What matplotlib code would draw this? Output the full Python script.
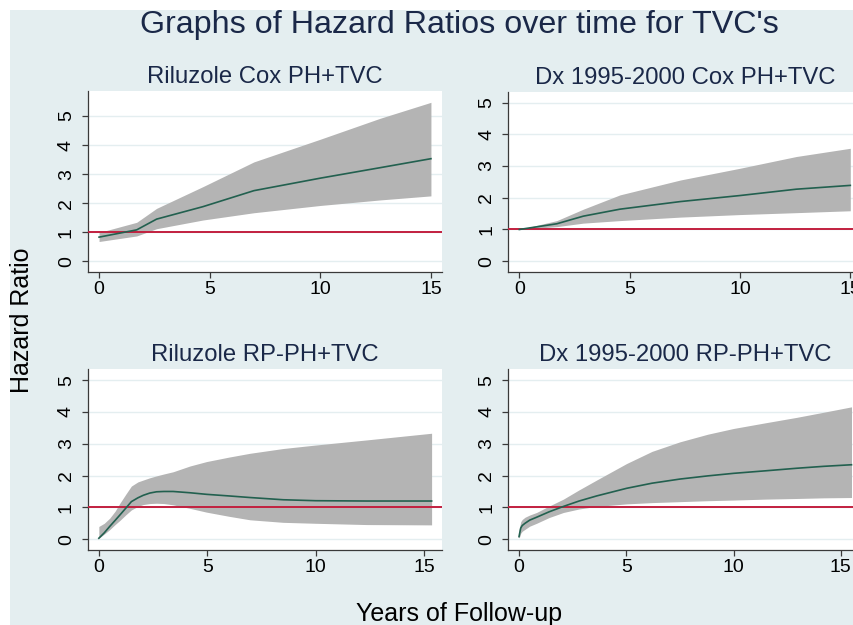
import numpy as np
import matplotlib.pyplot as plt
from matplotlib.patches import Rectangle

plt.rcParams['font.family'] = ['Liberation Sans', 'DejaVu Sans']

# Riluzole Cox PH+TVC
ril_cox_t = [0, 1.7, 2.6, 4.7, 7.0, 10, 12.7, 15]
ril_cox_hr = [0.83, 1.08, 1.45, 1.88, 2.43, 2.86, 3.22, 3.53]
ril_cox_lo = [0.68, 0.87, 1.12, 1.42, 1.67, 1.92, 2.11, 2.25]
ril_cox_hi = [0.99, 1.34, 1.82, 2.57, 3.42, 4.2, 4.92, 5.47]

# Dx 1995-2000 Cox PH+TVC
dx_cox_t = [0, 1.7, 2.9, 4.56, 7.3, 10, 12.55, 15]
dx_cox_hr = [1.0, 1.18, 1.42, 1.64, 1.88, 2.07, 2.27, 2.39]
dx_cox_lo = [1.0, 1.09, 1.2, 1.28, 1.39, 1.47, 1.53, 1.59]
dx_cox_hi = [1.0, 1.28, 1.64, 2.09, 2.56, 2.93, 3.3, 3.56]

# Riluzole RP-PH+TVC
ril_rp_t = [0, 0.25, 0.5, 0.75, 0.97, 1.25, 1.5, 1.8, 2.05, 2.35, 2.66, 3.0, 3.43, 4.2,
            4.97, 6.0, 6.97, 8.5, 10, 12.35, 15.35]
ril_rp_hr = [0.03, 0.2, 0.4, 0.59, 0.76, 0.98, 1.18, 1.3, 1.38, 1.45, 1.49, 1.5, 1.5, 1.46,
             1.41, 1.36, 1.31, 1.24, 1.21, 1.2, 1.2]
ril_rp_lo = [0.03, 0.16, 0.3, 0.46, 0.59, 0.77, 0.92, 1.03, 1.09, 1.12, 1.13, 1.12, 1.08, 0.97,
             0.85, 0.72, 0.61, 0.53, 0.5, 0.46, 0.45]
ril_rp_hi = [0.4, 0.5, 0.66, 0.88, 1.13, 1.42, 1.67, 1.8, 1.86, 1.93, 1.99, 2.05, 2.12, 2.3,
             2.44, 2.58, 2.7, 2.85, 2.96, 3.12, 3.33]

# Dx 1995-2000 RP-PH+TVC
dx_rp_t = [0, 0.04, 0.08, 0.15, 0.28, 0.5, 0.82, 1.4, 2.07, 2.8, 3.62, 5.02, 6.2, 7.5,
           8.8, 10, 11.5, 12.95, 14.2, 15.5]
dx_rp_hr = [0.08, 0.22, 0.35, 0.43, 0.5, 0.6, 0.69, 0.86, 1.03, 1.2, 1.36, 1.6, 1.76, 1.89,
            1.99, 2.07, 2.15, 2.23, 2.29, 2.34]
dx_rp_lo = [0.03, 0.1, 0.19, 0.25, 0.31, 0.41, 0.5, 0.68, 0.84, 0.95, 1.03, 1.11, 1.15, 1.18,
            1.21, 1.23, 1.26, 1.28, 1.3, 1.31]
dx_rp_hi = [0.29, 0.42, 0.55, 0.62, 0.69, 0.76, 0.84, 1.04, 1.26, 1.55, 1.86, 2.38, 2.76, 3.06,
            3.3, 3.48, 3.66, 3.83, 3.99, 4.16]

titles = ["Riluzole Cox PH+TVC", "Dx 1995-2000 Cox PH+TVC",
          "Riluzole RP-PH+TVC", "Dx 1995-2000 RP-PH+TVC"]
series = [(ril_cox_t, ril_cox_hr, ril_cox_lo, ril_cox_hi),
          (dx_cox_t, dx_cox_hr, dx_cox_lo, dx_cox_hi),
          (ril_rp_t, ril_rp_hr, ril_rp_lo, ril_rp_hi),
          (dx_rp_t, dx_rp_hr, dx_rp_lo, dx_rp_hi)]
ylims = [(-0.37, 5.86), (-0.35, 5.35), (-0.33, 5.34), (-0.33, 5.34)]
xlims = [(-0.5, 15.5), (-0.5, 15.53), (-0.5, 15.83), (-0.5, 15.99)]

W, H = 854, 625
bg = '#E4EEF0'
navy = '#1A2848'

fig = plt.figure(figsize=(W / 100, H / 100), dpi=100)
fig.patch.set_facecolor('white')
fig.add_artist(Rectangle((10 / W, 0), 1, 1 - 10 / H, transform=fig.transFigure,
                         facecolor=bg, edgecolor='none', zorder=-10))

# panel boxes in pixels: left, top, right, bottom
boxes = [(88, 91, 442, 272), (508.3, 91.5, 862, 272.3),
         (88, 369.3, 442, 549.7), (508.3, 369.3, 862, 549.7)]

for i, (box, title, (t, hr, lo, hi)) in enumerate(zip(boxes, titles, series)):
    l, tp, r, b = box
    ax = fig.add_axes([l / W, 1 - b / H, (r - l) / W, (b - tp) / H])
    ax.set_facecolor('white')
    ax.fill_between(t, lo, hi, color='#B4B4B4', linewidth=0, zorder=2)
    ax.axhline(1, color='#C2203F', linewidth=1.4, zorder=3)
    ax.plot(t, hr, color='#22604F', linewidth=1.2, zorder=4)
    ax.set_xlim(*xlims[i])
    ax.set_ylim(*ylims[i])
    ax.set_xticks([0, 5, 10, 15])
    ax.set_yticks([0, 1, 2, 3, 4, 5])
    ax.grid(axis='y', color='#E4EEF0', linewidth=1.0, zorder=1)
    ax.set_axisbelow(True)
    for s in ['top', 'right']:
        ax.spines[s].set_visible(False)
    for s in ['left', 'bottom']:
        ax.spines[s].set_color('#3A3A3A')
        ax.spines[s].set_linewidth(0.9)
    ax.tick_params(axis='both', colors='#3A3A3A', labelcolor='black', labelsize=14,
                   length=4.5, width=0.9)
    ax.tick_params(axis='x', pad=2)
    ax.tick_params(axis='y', pad=5)
    for lab in ax.get_yticklabels():
        lab.set_rotation(90)
        lab.set_va('center')
    fig.text((l + r) / 2 / W, 1 - (tp - 8) / H, title, ha='center', va='baseline',
             fontsize=17.2, color=navy)

fig.text(458.9 / W, 1 - 33.3 / H, "Graphs of Hazard Ratios over time for TVC's",
         ha='center', va='baseline', fontsize=23.2, color=navy)
fig.text(459 / W, 1 - 620.7 / H, "Years of Follow-up", ha='center', va='baseline',
         fontsize=18, color='black')
fig.text(22 / W, 1 - 320.5 / H, "Hazard Ratio", ha='center', va='center',
         rotation=90, fontsize=18, color='black')

fig.savefig('out.png', dpi=100, facecolor=fig.get_facecolor())
